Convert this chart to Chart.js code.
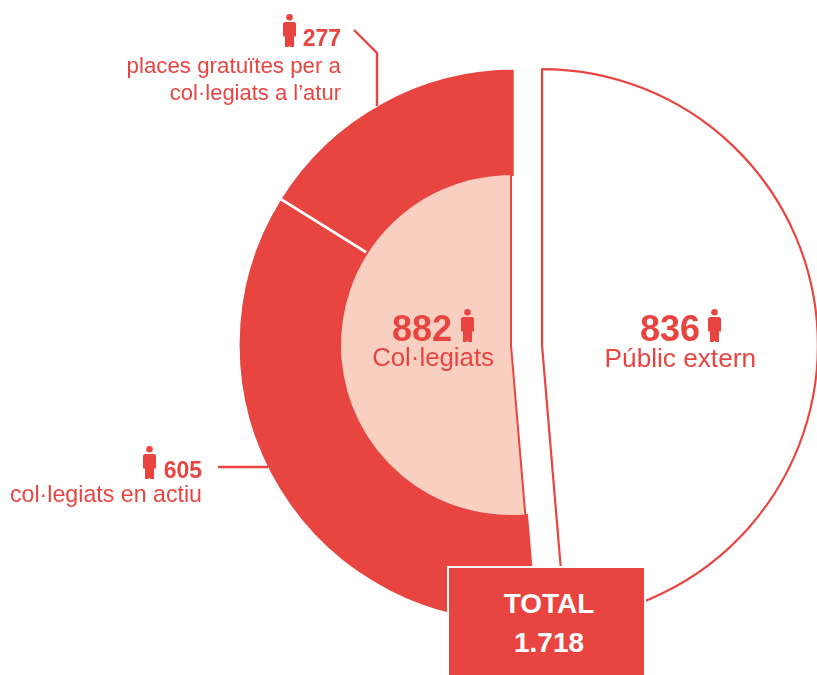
<!DOCTYPE html>
<html lang="ca">
<head>
    <meta charset="UTF-8">
    <title>Total 1.718</title>
    <script src="https://cdn.jsdelivr.net/npm/chart.js"></script>
    <style>
        * { box-sizing: border-box; }
        html, body { margin: 0; width: 817px; height: 675px; overflow: hidden; background: #fff; }
        body { position: relative; font-family: "Liberation Sans", sans-serif; color: #e84541; }
        canvas { position: absolute; }
        .txt { position: absolute; white-space: nowrap; }
        .num { font-weight: bold; }
        .person { position: absolute; width: 13px; height: 33px; fill: #e84541; }
        #leaders { position: absolute; left: 0; top: 0; }
        #total {
            position: absolute; left: 447px; top: 566px; width: 199px; height: 112px;
            background: #e84541; border: 2.5px solid #fff; color: #fff;
            font-weight: bold; font-size: 28px; line-height: 39px; text-align: center; padding: 16px 0 0 5px;
        }
    </style>
</head>
<body>
    <canvas id="externCanvas"></canvas>
    <canvas id="ringCanvas"></canvas>
    <canvas id="colegiatsCanvas"></canvas>

    <svg id="leaders" width="817" height="675" fill="none" stroke="#e84541" stroke-width="2.4">
        <polyline points="354,30 377,53 377,106"/>
        <line x1="218" y1="467" x2="268" y2="467"/>
    </svg>

    <div id="labels"></div>
    <div id="total"></div>

    <script>
        // Dades
        const grups = ['Públic extern', 'Col·legiats'];
        const valorsGrups = [836, 882];
        const subgrups = ['Públic extern', 'col·legiats en actiu', 'places gratuïtes per a col·legiats a l’atur'];
        const valorsSubgrups = [836, 605, 277];
        const totalText = ['TOTAL', '1.718'];

        const vermell = '#e84541';
        const rosa = '#f9cfc1';

        // Cada capa es un grafic propi perque els centres no coincideixen
        function capa(id, cx, cy, r, labels, data, colors, cutout, vores, colorVora) {
            const pad = 4;
            const mida = 2 * (r + pad);
            const canvas = document.getElementById(id);
            canvas.width = mida;
            canvas.height = mida;
            canvas.style.left = (cx - r - pad) + 'px';
            canvas.style.top = (cy - r - pad) + 'px';
            return new Chart(canvas.getContext('2d'), {
                type: 'doughnut',
                data: {
                    labels: labels,
                    datasets: [{
                        data: data,
                        backgroundColor: colors,
                        borderColor: colorVora,
                        borderWidth: vores
                    }]
                },
                options: {
                    responsive: false,
                    animation: false,
                    cutout: cutout,
                    layout: { padding: pad },
                    plugins: { legend: { display: false }, tooltip: { enabled: false } }
                }
            });
        }

        capa('externCanvas', 542, 345, 277, grups, valorsGrups, ['#fff', 'transparent'], 0, [2.2, 0], vermell);
        capa('ringCanvas', 515, 345, 278, subgrups, valorsSubgrups, ['transparent', vermell, vermell], 168, [0, 2.6, 2.6], '#fff');
        capa('colegiatsCanvas', 511, 345, 172, grups, valorsGrups, ['transparent', rosa], 0, [0, 2], vermell);

        // Textos
        const persona = '<circle cx="6.5" cy="3.3" r="3.3"/><path d="M1.5 8h10l1.5 1.5v13h-2v10.5h-3.8v-1h-1.4v1h-3.8v-10.5h-2v-13z"/>';
        function icona(x, y) {
            return '<svg class="person" viewBox="0 0 13 33" style="left:' + x + 'px;top:' + y + 'px">' + persona + '</svg>';
        }
        function text(contingut, opts) {
            let css = 'top:' + opts.top + 'px;font-size:' + opts.size + 'px;';
            css += opts.right !== undefined ? 'right:' + (817 - opts.right) + 'px;' : 'left:' + opts.left + 'px;';
            return '<div class="txt ' + (opts.bold ? 'num' : '') + '" style="' + css + '">' + contingut + '</div>';
        }

        document.getElementById('labels').innerHTML =
            icona(283, 14) +
            text(valorsSubgrups[2], { right: 341, top: 25, size: 23, bold: true }) +
            text('places gratuïtes per a', { right: 341, top: 53, size: 22.3 }) +
            text('col·legiats a l’atur', { right: 341, top: 80, size: 22 }) +
            icona(143, 446) +
            text(valorsSubgrups[1], { right: 202, top: 457, size: 23, bold: true }) +
            text(subgrups[1], { right: 202, top: 481, size: 23.2 }) +
            text(valorsGrups[1], { right: 452, top: 308, size: 36, bold: true }) +
            icona(461, 309) +
            text(grups[1], { right: 494, top: 343, size: 25.8 }) +
            text(valorsGrups[0], { right: 700, top: 308, size: 36, bold: true }) +
            icona(708, 309) +
            text(grups[0], { right: 756, top: 343, size: 26.2 });

        document.getElementById('total').innerHTML = totalText.join('<br>');
    </script>
</body>
</html>
